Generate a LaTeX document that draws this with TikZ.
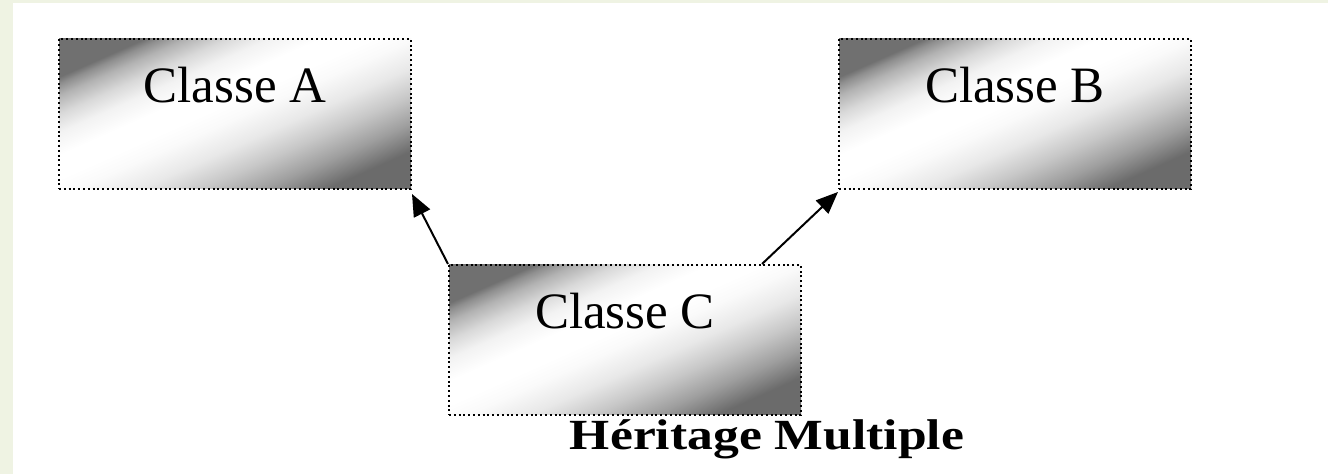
\documentclass[tikz,border=0pt]{standalone}
\usepackage{fontspec}
\setmainfont{Liberation Serif}
\newfontfamily\titlefont[FakeStretch=1.2]{Liberation Serif}
\usetikzlibrary{arrows.meta}
\definecolor{stripgreen}{RGB}{239,243,227}
\pgfdeclareverticalshading{boxshade}{100bp}{color(0bp)=(black!58); color(25bp)=(black!58); color(31bp)=(black!38); color(37bp)=(black!22); color(43bp)=(black!9); color(49bp)=(black!2); color(53bp)=(white); color(58bp)=(white); color(63bp)=(black!5); color(67bp)=(black!15); color(71bp)=(black!30); color(73.5bp)=(black!44); color(75bp)=(black!56); color(100bp)=(black!56)}
\tikzset{
  classbox/.style={rectangle, draw=black, line width=1pt,
    dash pattern=on 1pt off 1.4pt, shading=boxshade, shading angle=24,
    minimum width=176pt, minimum height=75pt, inner sep=0pt,
    text height=32pt, text depth=43pt, font=\fontsize{25.5pt}{30pt}\selectfont,
    anchor=north west},
  inherit/.style={line width=1pt, -{Triangle[length=11pt,width=9pt]}}
}
\begin{document}
\begin{tikzpicture}[x=0.5pt,y=-0.5pt]
\useasboundingbox (0,0) rectangle (1328,474);
\fill[white] (0,0) rectangle (1328,474);
\fill[stripgreen] (0,0) rectangle (1328,3);
\fill[stripgreen] (0,0) rectangle (13,474);
\node[classbox] (A) at (58,38) {Classe A};
\node[classbox] (B) at (838,38) {Classe B};
\node[classbox] (C) at (448,264) {Classe C};
\node[font=\titlefont\bfseries\fontsize{21.5pt}{26pt}\selectfont, anchor=base, inner sep=0pt] (T) at (767,450) {Héritage Multiple};
\draw[inherit] (C.north west) -- ([yshift=-2pt]A.south east);
\draw[inherit] ([xshift=157pt]C.north west) -- ([yshift=-1pt]B.south west);
\end{tikzpicture}
\end{document}
